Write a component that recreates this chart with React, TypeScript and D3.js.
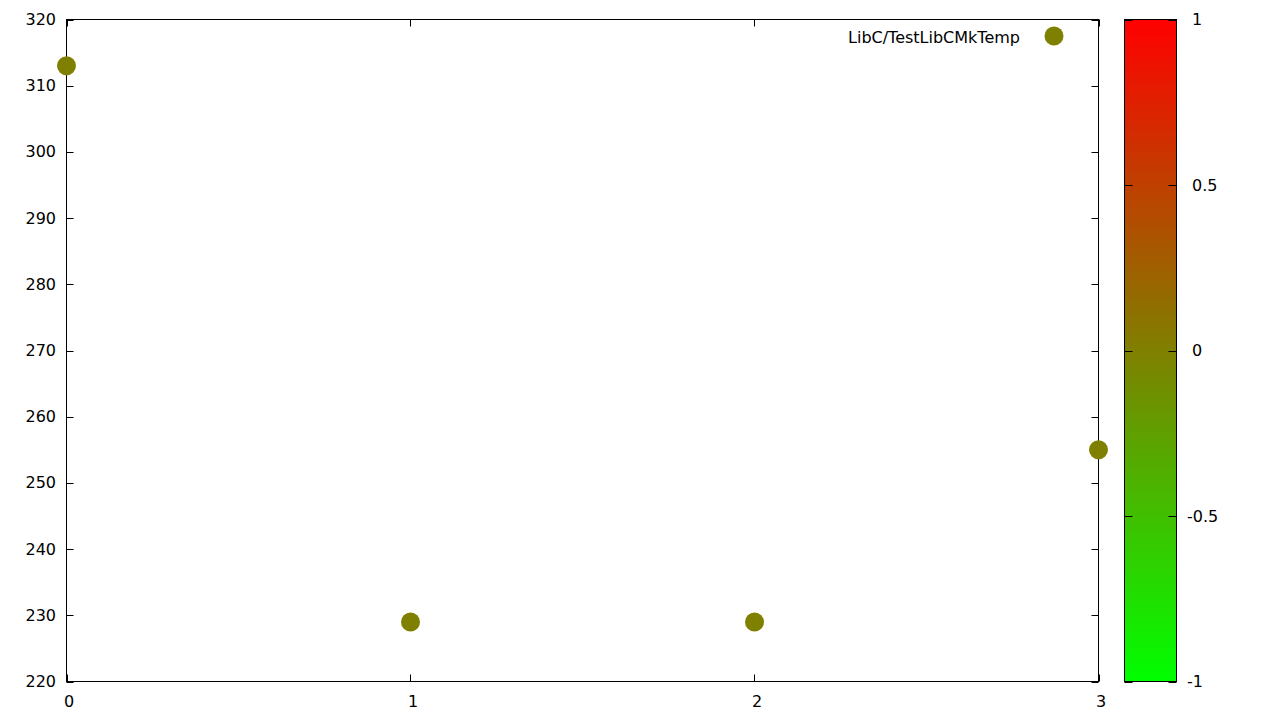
import React from "react";
import * as d3 from "d3";

const xValues = [0, 1, 2, 3];
const yValues = [313, 229, 229, 255];
const colorValues = [0, 0, 0, 0];
const xTicks = [0, 1, 2, 3];
const yTicks = [220, 230, 240, 250, 260, 270, 280, 290, 300, 310, 320];
const cbTicks = [-1, -0.5, 0, 0.5, 1];
const seriesName = "LibC/TestLibCMkTemp";

const W = 1280, H = 720;
const L = 66.5, R = 1098.5, T = 19.5, B = 681.5;
const CBL = 1124.5, CBR = 1176.5;
const FONT = "DejaVu Sans, sans-serif";

export default function App() {
  const x = d3.scaleLinear().domain([0, 3]).range([L, R]);
  const y = d3.scaleLinear().domain([220, 320]).range([B, T]);
  const cb = d3.scaleLinear().domain([-1, 1]).range([B, T]);
  const color = d3.scaleLinear<string>().domain([-1, 1]).range(["rgb(0,255,0)", "rgb(255,0,0)"]).interpolate(d3.interpolateRgb);
  const tick = 7;
  const stops = d3.range(0, 1.0001, 0.05);
  return (
    <svg width={W} height={H} style={{ position: "absolute", left: 0, top: 0, background: "#fff" }} fontFamily={FONT} fontSize={16}>
      <defs>
        <linearGradient id="cbg" x1="0" y1="1" x2="0" y2="0">
          {stops.map((s) => (
            <stop key={s} offset={s} stopColor={color(-1 + 2 * s)} />
          ))}
        </linearGradient>
      </defs>
      <rect x={0} y={0} width={W} height={H} fill="#fff" />
      {/* y ticks */}
      {yTicks.map((v) => (
        <g key={"y" + v}>
          <line x1={L} x2={L + tick} y1={Math.round(y(v)) + 0.5} y2={Math.round(y(v)) + 0.5} stroke="#000" />
          <line x1={R} x2={R - tick} y1={Math.round(y(v)) + 0.5} y2={Math.round(y(v)) + 0.5} stroke="#000" />
          <text x={56} y={y(v)} textAnchor="end" dominantBaseline="central">{v}</text>
        </g>
      ))}
      {xTicks.map((v) => (
        <g key={"x" + v}>
          <line x1={Math.round(x(v)) + 0.5} x2={Math.round(x(v)) + 0.5} y1={B} y2={B - tick} stroke="#000" />
          <line x1={Math.round(x(v)) + 0.5} x2={Math.round(x(v)) + 0.5} y1={T} y2={T + tick} stroke="#000" />
          <text x={x(v) + 2.5} y={701} textAnchor="middle" dominantBaseline="central">{v}</text>
        </g>
      ))}
      <rect x={L} y={T} width={R - L} height={B - T} fill="none" stroke="#000" />
      {/* points */}
      {xValues.map((xv, i) => (
        <circle key={i} cx={x(xv)} cy={y(yValues[i])} r={9.5} fill="rgb(128,128,0)" />
      ))}
      {/* legend */}
      <text x={1020} y={37} textAnchor="end" dominantBaseline="central">{seriesName}</text>
      <circle cx={1054} cy={36} r={9.5} fill="rgb(128,128,0)" />
      {/* colorbar */}
      <rect x={CBL} y={T} width={CBR - CBL} height={B - T} fill="url(#cbg)" stroke="#000" />
      {cbTicks.map((v) => (
        <g key={"c" + v}>
          <line x1={CBL} x2={CBL + 8} y1={Math.round(cb(v)) + 0.5} y2={Math.round(cb(v)) + 0.5} stroke="#000" />
          <line x1={CBR} x2={CBR - 8} y1={Math.round(cb(v)) + 0.5} y2={Math.round(cb(v)) + 0.5} stroke="#000" />
          <text x={v < 0 ? 1187 : 1192} y={cb(v)} textAnchor="start" dominantBaseline="central">{v}</text>
        </g>
      ))}
    </svg>
  );
}
